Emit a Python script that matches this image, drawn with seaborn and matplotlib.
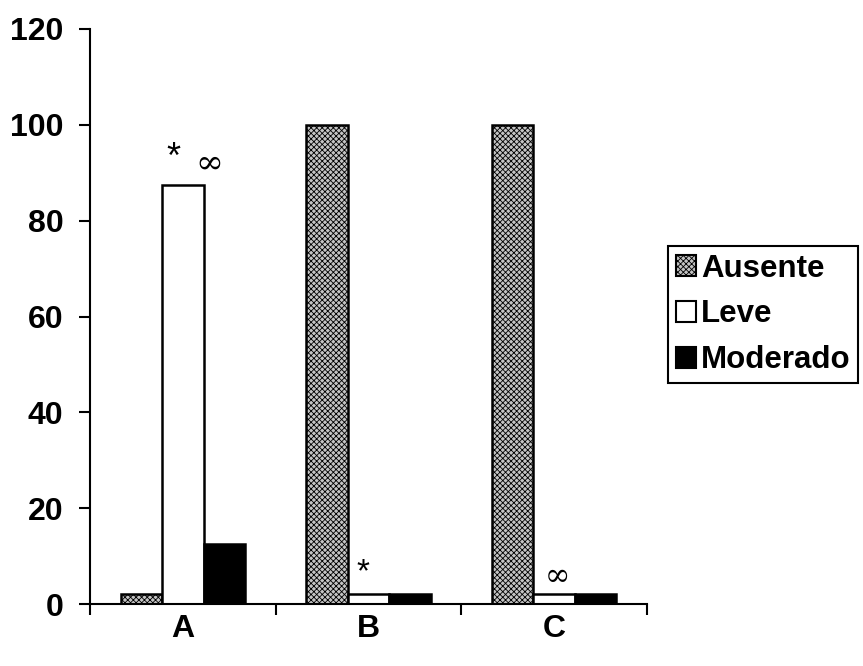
import matplotlib
matplotlib.use("Agg")
import matplotlib.pyplot as plt
import seaborn as sns
import pandas as pd

categories = ["A", "B", "C"]
series = ["Ausente", "Leve", "Moderado"]
ausente = [2, 100, 100]
leve = [87.5, 2, 2]
moderado = [12.5, 2, 2]
yticks = [0, 20, 40, 60, 80, 100, 120]

rows = []
for i, c in enumerate(categories):
    rows.append((c, "Ausente", ausente[i]))
    rows.append((c, "Leve", leve[i]))
    rows.append((c, "Moderado", moderado[i]))
df = pd.DataFrame(rows, columns=["cat", "serie", "valor"])

sns.set_style("white")
plt.rcParams['font.family'] = ['Liberation Sans', 'DejaVu Sans']
plt.rcParams['text.color'] = 'black'
plt.rcParams['xtick.color'] = 'black'
plt.rcParams['ytick.color'] = 'black'
plt.rcParams['hatch.color'] = '#555555'
plt.rcParams['hatch.linewidth'] = 0.6

fig = plt.figure(figsize=(8.63, 6.66), dpi=100)
ax = fig.add_axes([90/863, 1 - 604/666, (647 - 90)/863, (604 - 29)/666])

palette = {"Ausente": "#c4c4c4", "Leve": "#ffffff", "Moderado": "#000000"}
sns.barplot(data=df, x="cat", y="valor", hue="serie", hue_order=series,
            order=categories, palette=palette, width=0.67, gap=0,
            edgecolor="black", linewidth=1.8, saturation=1, ax=ax, legend=True)

for bar_container, name in zip(ax.containers, series):
    if name == "Ausente":
        for p in bar_container:
            p.set_hatch("xxxxxx")

ax.set_ylim(0, 120)
ax.set_xlim(-0.5, 2.5)
ax.set_yticks(yticks)
ax.set_yticklabels([str(v) for v in yticks], fontsize=23, fontweight="bold", color="black")
ax.set_xticks([0, 1, 2])
ax.set_xticklabels(categories, fontsize=23, fontweight="bold", color="black")
ax.set_xticks([-0.5, 0.5, 1.5, 2.5], minor=True)
ax.tick_params(axis="x", which="major", length=0, pad=7)
ax.tick_params(axis="x", which="minor", length=8, width=1.5, direction="out", color="black", bottom=True)
ax.tick_params(axis="y", length=8, width=1.5, direction="out", color="black", left=True, pad=11)
ax.set_xlabel("")
ax.set_ylabel("")
for s in ["top", "right"]:
    ax.spines[s].set_visible(False)
for s in ["left", "bottom"]:
    ax.spines[s].set_color("black")
    ax.spines[s].set_linewidth(1.5)

ax.text(-0.05, 93.0, "*", fontsize=26, ha="center", va="center")
ax.text(0.14, 92.0, "\u221e", fontsize=24, ha="center", va="center", family=["DejaVu Serif"])
ax.text(0.97, 6.5, "*", fontsize=24, ha="center", va="center")
ax.text(2.02, 5.8, "\u221e", fontsize=22, ha="center", va="center", family=["DejaVu Serif"])

handles, labels = ax.get_legend_handles_labels()
ax.get_legend().remove()
leg = fig.legend(handles, labels, loc="upper left", bbox_to_anchor=(668/863, 1 - 246/666),
                 frameon=True, fancybox=False, framealpha=1, edgecolor="black",
                 prop={"size": 22.5, "weight": "bold"}, handlelength=0.65, handleheight=0.65,
                 handletextpad=0.15, borderpad=0.25, labelspacing=0.5, borderaxespad=0)
leg.get_frame().set_linewidth(1.5)
for h, name in zip(leg.get_patches(), labels):
    h.set_edgecolor("black")
    h.set_linewidth(1.5)
    if name == "Ausente":
        h.set_hatch("xxxxxx")

fig.savefig("out.png", dpi=100)
